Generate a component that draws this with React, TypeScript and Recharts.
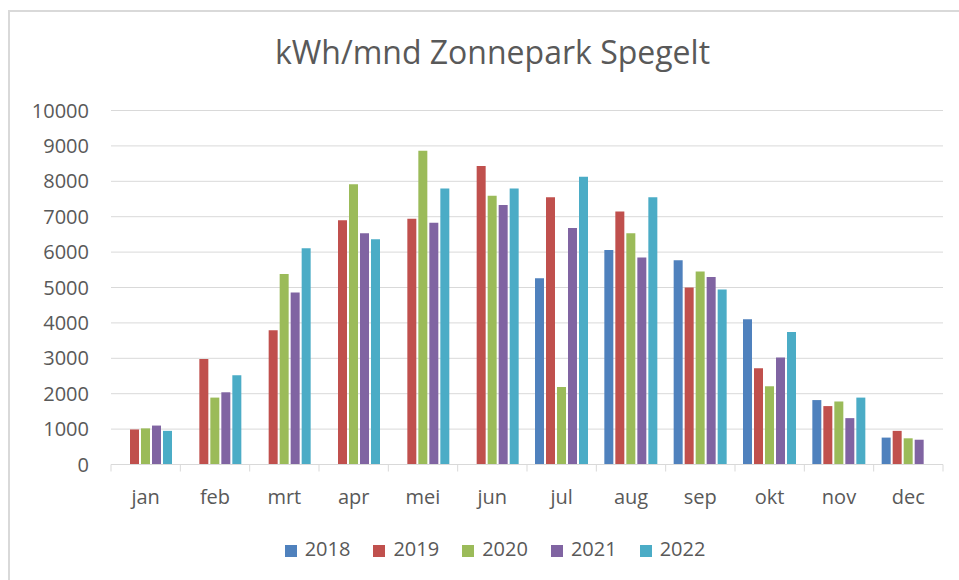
import React from "react"
import { BarChart, Bar, XAxis, YAxis, CartesianGrid, Legend } from "recharts"

const months = ["jan", "feb", "mrt", "apr", "mei", "jun", "jul", "aug", "sep", "okt", "nov", "dec"]
const y2018 = [null, null, null, null, null, null, 5260, 6060, 5770, 4100, 1820, 760]
const y2019 = [990, 2980, 3790, 6900, 6940, 8430, 7550, 7150, 5000, 2720, 1650, 950]
const y2020 = [1020, 1890, 5380, 7920, 8860, 7590, 2190, 6530, 5450, 2210, 1780, 740]
const y2021 = [1100, 2040, 4860, 6530, 6830, 7330, 6680, 5850, 5300, 3020, 1310, 700]
const y2022 = [950, 2520, 6110, 6360, 7800, 7800, 8130, 7550, 4940, 3740, 1890, null]
const yTicks = [0, 1000, 2000, 3000, 4000, 5000, 6000, 7000, 8000, 9000, 10000]

const series = [
  { key: "2018", values: y2018, color: "#4F81BD" },
  { key: "2019", values: y2019, color: "#C0504D" },
  { key: "2020", values: y2020, color: "#9BBB59" },
  { key: "2021", values: y2021, color: "#8064A2" },
  { key: "2022", values: y2022, color: "#4BACC6" },
]

const data = months.map((m, i) => {
  const row: Record<string, any> = { month: m }
  series.forEach((s) => {
    row[s.key] = s.values[i]
  })
  return row
})

const W = 959
const H = 580
const margin = { top: 110.5, right: 16, bottom: 75.5, left: 11 }
const yAxisWidth = 100
const band = (W - margin.left - margin.right - yAxisWidth) / months.length
const textColor = "#595959"
const gridColor = "#d9d9d9"

const MonthTick = (props: any) => {
  const { x, y, payload, index } = props
  const left = x - band / 2
  return (
    <g>
      <line x1={left} x2={left} y1={y} y2={y + 7} stroke={gridColor} />
      {index === months.length - 1 && <line x1={x + band / 2} x2={x + band / 2} y1={y} y2={y + 7} stroke={gridColor} />}
      <text x={x} y={y + 39} textAnchor="middle" fill={textColor} fontSize={20}>
        {payload.value}
      </text>
    </g>
  )
}

export default function App() {
  return (
    <div style={{ position: "absolute", left: 0, top: 0, width: W, height: H, overflow: "hidden", background: "#fff", fontFamily: "'Open Sans', sans-serif" }}>
      <div style={{ position: "absolute", left: 8, top: 10, width: 1000, height: 700, borderLeft: `2px solid ${gridColor}`, borderTop: `2px solid ${gridColor}` }} />
      <div style={{ position: "absolute", left: 0, top: 30, width: 985, textAlign: "center", fontSize: 32, color: textColor }}>
        kWh/mnd Zonnepark Spegelt
      </div>
      <BarChart width={W} height={H} data={data} margin={margin} barSize={9} barGap={2}>
        <CartesianGrid vertical={false} stroke={gridColor} />
        <XAxis dataKey="month" axisLine={{ stroke: gridColor }} tickLine={false} tickSize={0} tickMargin={0} height={40} tick={<MonthTick />} interval={0} />
        <YAxis
          width={yAxisWidth}
          domain={[0, 10000]}
          ticks={yTicks}
          axisLine={false}
          tickLine={false}
          tickMargin={16}
          tick={{ fill: textColor, fontSize: 20 }}
        />
        <Legend
          layout="horizontal"
          verticalAlign="middle"
          align="center"
          iconType="square"
          iconSize={12}
          wrapperStyle={{ top: 535, left: 14, width: 985, fontSize: 20 }}
          formatter={(value: string) => <span style={{ color: textColor, marginLeft: 4, marginRight: 13 }}>{value}</span>}
        />
        {series.map((s) => (
          <Bar key={s.key} dataKey={s.key} name={s.key} fill={s.color} isAnimationActive={false} />
        ))}
      </BarChart>
    </div>
  )
}
